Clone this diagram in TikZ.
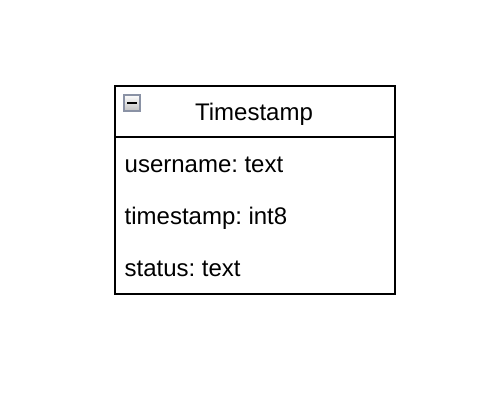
\documentclass[tikz,border=0pt]{standalone}
\usepackage{fontspec}
\setmainfont{Liberation Sans}
\begin{document}
\begin{tikzpicture}[x=1pt,y=-1pt,
  rowtext/.style={anchor=base west,inner sep=0pt,font=\fontsize{24}{28}\selectfont},
  headtext/.style={anchor=base,inner sep=0pt,font=\fontsize{24}{28}\selectfont},
  frame/.style={draw=black,line width=1.6pt}]
\useasboundingbox (0,0) rectangle (495,407);
\node[frame,minimum width=280pt,minimum height=208pt,inner sep=0pt,anchor=north west] (box) at (114,85) {};
\coordinate (hl) at (114,137);
\coordinate (hr) at (394,137);
\draw[frame] (hl) -- (hr);
\node[headtext] (title) at (254,120) {Timestamp};
\node[rowtext] (r1) at (124.5,172) {username:\hspace{6.5pt}text};
\node[rowtext] (r2) at (124.5,224) {timestamp:\hspace{6.5pt}int8};
\node[rowtext] (r3) at (124.5,276) {status:\hspace{6.5pt}text};
\shade[top color=white,bottom color=black!25] (123.5,94.5) rectangle (140.5,111.5);
\node[draw={rgb,255:red,138;green,146;blue,165},line width=1.6pt,minimum size=16pt,inner sep=0pt] (icon) at (132,103) {};
\draw[line width=2.4pt] (127,103) -- (137,103);
\end{tikzpicture}
\end{document}
